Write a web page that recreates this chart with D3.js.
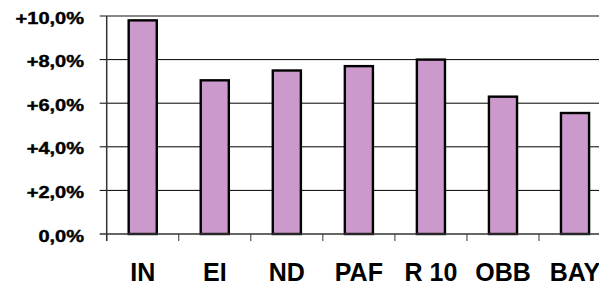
<!DOCTYPE html>
<html>
<head>
<meta charset="utf-8">
<script src="https://cdn.jsdelivr.net/npm/d3@7"></script>
<style>
  body { margin: 0; background: #fff; }
  text { font-family: "Liberation Sans", Arial, sans-serif; font-weight: bold; fill: #000; }
</style>
</head>
<body>
<div id="chart"></div>
<script>
var categories = ["IN", "EI", "ND", "PAF", "R 10", "OBB", "BAY"];
var values = [9.8, 7.05, 7.5, 7.7, 8.0, 6.3, 5.55];
var yTicks = [0, 2, 4, 6, 8, 10];

var width = 599, height = 284;
var left = 106.7, step = 72.05;

var svg = d3.select("#chart")
            .append("svg")
            .attr("width", width)
            .attr("height", height);

// band scale runs past the right edge like the original
var x = d3.scaleBand()
          .domain(categories)
          .range([left, left + step * categories.length])
          .padding(0);

var y = d3.scaleLinear()
          .domain([0, 10])
          .range([234, 16]);

var barW = x.bandwidth() * 0.39;

// gridlines
svg.append("g")
   .selectAll("line")
   .data(yTicks.filter(function(d) { return d > 0; }))
   .enter().append("line")
   .attr("x1", left - 7)
   .attr("x2", width)
   .attr("y1", function(d) { return y(d); })
   .attr("y2", function(d) { return y(d); })
   .attr("stroke", function(d) { return d == 10 ? "#888" : "#000"; })
   .attr("stroke-width", function(d) { return d == 10 ? 2 : 1; });

// bars
svg.append("g")
   .selectAll("rect")
   .data(values)
   .enter().append("rect")
   .attr("x", function(d, i) { return x(categories[i]) + (x.bandwidth() - barW) / 2; })
   .attr("y", function(d) { return y(d); })
   .attr("width", barW)
   .attr("height", function(d) { return y(0) - y(d); })
   .attr("fill", "#cc99cc")
   .attr("stroke", "#000")
   .attr("stroke-width", 2.4);

// x axis line + ticks
svg.append("line")
   .attr("x1", left - 7).attr("x2", width)
   .attr("y1", y(0)).attr("y2", y(0))
   .attr("stroke", "#333").attr("stroke-width", 1.5);

svg.append("g")
   .selectAll("line")
   .data(categories)
   .enter().append("line")
   .attr("x1", function(d) { return x(d); })
   .attr("x2", function(d) { return x(d); })
   .attr("y1", y(0))
   .attr("y2", y(0) + 7)
   .attr("stroke", "#333");

// y axis line
svg.append("line")
   .attr("x1", left).attr("x2", left)
   .attr("y1", y(10)).attr("y2", y(0) + 7)
   .attr("stroke", "#333").attr("stroke-width", 1.5);

// y labels (stretched wide like the source)
svg.append("g")
   .selectAll("text")
   .data(yTicks)
   .enter().append("text")
   .attr("transform", function(d) { return "translate(84," + (y(d) + 7.5) + ") scale(1.25,1)"; })
   .attr("text-anchor", "end")
   .style("font-size", "16px")
   .style("stroke", "#000")
   .style("stroke-width", 0.4)
   .text(function(d) { return (d > 0 ? "+" : "") + d.toFixed(1).replace(".", ",") + "%"; });

// x labels
svg.append("g")
   .selectAll("text")
   .data(categories)
   .enter().append("text")
   .attr("x", function(d) { return x(d) + x.bandwidth() / 2; })
   .attr("y", 280.5)
   .attr("text-anchor", "middle")
   .style("font-size", "25px")
   .text(function(d) { return d; });
</script>
</body>
</html>
